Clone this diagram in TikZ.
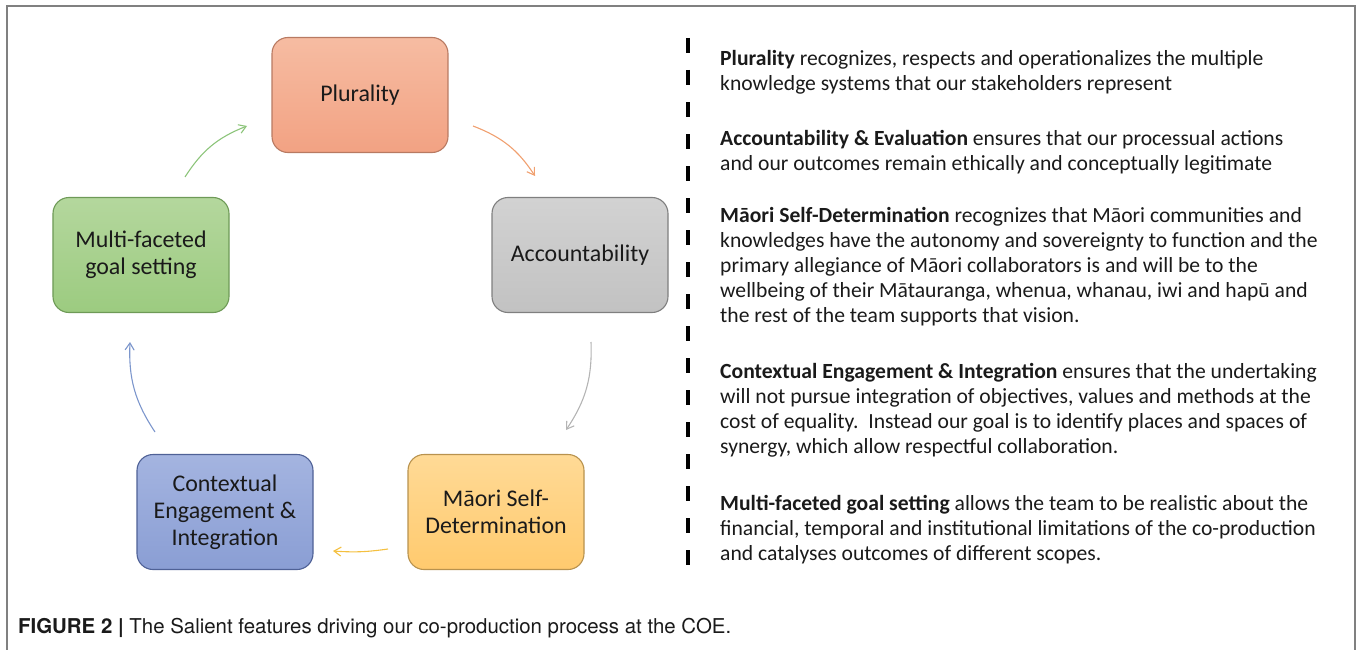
\documentclass[tikz,border=0pt]{standalone}
\usepackage{fontspec}
\setmainfont{Carlito}
\newfontfamily\capfont{TeX Gyre Heros}
\usetikzlibrary{arrows.meta}
\definecolor{plurf1}{HTML}{F6BCA2}
\definecolor{plurf2}{HTML}{F2A283}
\definecolor{plurd}{HTML}{B87A62}
\definecolor{accf1}{HTML}{D2D2D2}
\definecolor{accf2}{HTML}{C2C2C2}
\definecolor{accd}{HTML}{7F7F7F}
\definecolor{maof1}{HTML}{FFDA96}
\definecolor{maof2}{HTML}{FFCA6E}
\definecolor{maod}{HTML}{B8924E}
\definecolor{conf1}{HTML}{A4B4E0}
\definecolor{conf2}{HTML}{8A9ED4}
\definecolor{cond}{HTML}{4F6196}
\definecolor{mulf1}{HTML}{B4D79D}
\definecolor{mulf2}{HTML}{9CCB80}
\definecolor{muld}{HTML}{6E9A57}
\definecolor{arrgreen}{HTML}{8CC47A}
\definecolor{arrorange}{HTML}{F0A070}
\definecolor{arrgray}{HTML}{B4B4B4}
\definecolor{arryellow}{HTML}{F4C040}
\definecolor{arrblue}{HTML}{7C96CC}
\definecolor{txt}{HTML}{1A1A1A}
\definecolor{framec}{HTML}{808080}
\begin{document}
\begin{tikzpicture}[x=1bp,y=-1bp,
  stagebox/.style={draw, line width=1.1bp, rounded corners=16bp, minimum width=176bp, minimum height=115bp,
    align=center, text=txt, font=\fontsize{24}{27}\selectfont, inner sep=0pt},
  cyc/.style={line width=1.1bp, -{Straight Barb[length=7bp,width=9bp]}, bend left=18},
  para/.style={anchor=north west, align=left, text=txt, inner sep=0pt, font=\fontsize{21.7}{25}\selectfont},
  sep/.style={line width=3.5bp, dash pattern=on 15bp off 17bp}
]
\useasboundingbox (0,0) rectangle (1360,650);
\draw[framec, line width=1.5bp] (7,650) -- (7,6) -- (1355,6) -- (1355,650);

\node[stagebox, draw=plurd, top color=plurf1, bottom color=plurf2] (plu) at (360,95) {Plurality};
\node[stagebox, draw=accd, top color=accf1, bottom color=accf2] (acc) at (580,255) {Accountability};
\node[stagebox, draw=maod, top color=maof1, bottom color=maof2] (mao) at (496,512) {Māori Self-\\Determination};
\node[stagebox, draw=cond, top color=conf1, bottom color=conf2] (con) at (225,512) {Contextual\\Engagement \&\\Integration};
\node[stagebox, draw=muld, top color=mulf1, bottom color=mulf2] (mul) at (141,255) {Multi-faceted\\goal setting};

\coordinate (g1) at (185,177); \coordinate (g2) at (247,126);
\coordinate (o1) at (473,126); \coordinate (o2) at (535,176);
\coordinate (r1) at (591,342); \coordinate (r2) at (566,430);
\coordinate (y1) at (388,549); \coordinate (y2) at (333,551);
\coordinate (b1) at (155,432); \coordinate (b2) at (130,342);
\draw[cyc, arrgreen] (g1) to (g2);
\draw[cyc, arrorange] (o1) to (o2);
\draw[cyc, arrgray] (r1) to (r2);
\draw[cyc, arryellow, bend left=6] (y1) to (y2);
\draw[cyc, arrblue] (b1) to (b2);

\coordinate (s1) at (688,38); \coordinate (s2) at (688,580);
\draw[sep] (s1) -- (s2);

\node[para] (p1) at (720,50) {\textbf{Plurality} recognizes, respects and operationalizes the multiple\\knowledge systems that our stakeholders represent};
\node[para] (p2) at (720,130) {\textbf{Accountability \& Evaluation} ensures that our processual actions\\and our outcomes remain ethically and conceptually legitimate};
\node[para] (p3) at (720,207) {\textbf{Māori Self-Determination} recognizes that Māori communities and\\knowledges have the autonomy and sovereignty to function and the\\primary allegiance of Māori collaborators is and will be to the\\wellbeing of their Mātauranga, whenua, whanau, iwi and hapū and\\the rest of the team supports that vision.};
\node[para] (p4) at (720,363) {\textbf{Contextual Engagement \& Integration} ensures that the undertaking\\will not pursue integration of objectives, values and methods at the\\cost of equality.\ \ Instead our goal is to identify places and spaces of\\synergy, which allow respectful collaboration.};
\node[para] (p5) at (720,495) {\textbf{Multi-faceted goal setting} allows the team to be realistic about the\\financial, temporal and institutional limitations of the co-production\\and catalyses outcomes of different scopes.};

\node[anchor=west, inner sep=0pt, font=\capfont\fontsize{20.5}{24}\selectfont, text=txt] (cap) at (18,628) {\textbf{FIGURE 2 |} The Salient features driving our co-production process at the COE.};
\end{tikzpicture}
\end{document}
